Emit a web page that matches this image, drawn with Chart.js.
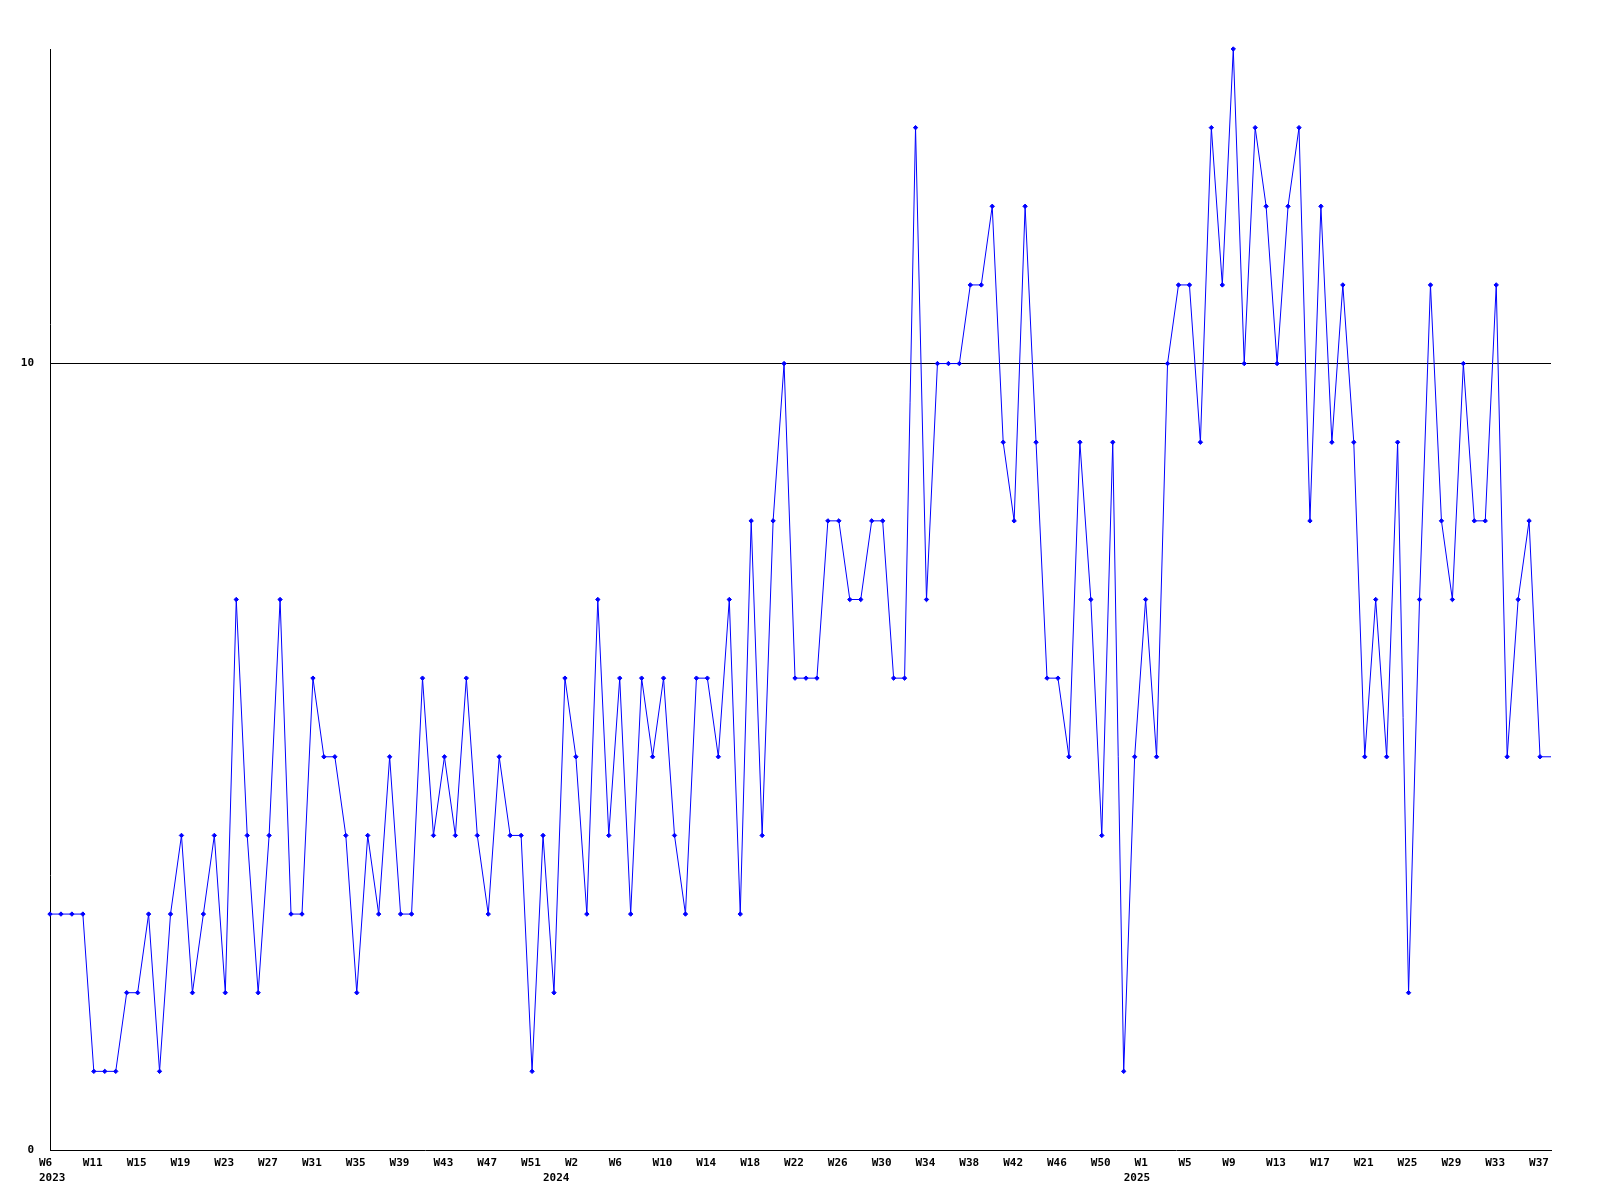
<!DOCTYPE html>
<html>
<head>
<meta charset="utf-8">
<script src="https://cdn.jsdelivr.net/npm/chart.js@4"></script>
<style>
  body { margin: 0; background: #fff; }
  #wrap { width: 1600px; height: 1200px; }
</style>
</head>
<body>
<div id="wrap"><canvas id="weeklyChart" width="1600" height="1200"></canvas></div>
<script>
// one value per week, 2023 W6 .. 2025 W37, plus the open week at the right edge
var values = [
    3, 3, 3, 3, 1, 1, 1, 2, 2, 3, 1, 3, 4, 2, 3, 4, 2, 7, 4, 2, 4, 7, 3, 3,
    6, 5, 5, 4, 2, 4, 3, 5, 3, 3, 6, 4, 5, 4, 6, 4, 3, 5, 4, 4, 1, 4, 2, 6,
    5, 3, 7, 4, 6, 3, 6, 5, 6, 4, 3, 6, 6, 5, 7, 3, 8, 4, 8, 10, 6, 6, 6, 8,
    8, 7, 7, 8, 8, 6, 6, 13, 7, 10, 10, 10, 11, 11, 12, 9, 8, 12, 9, 6, 6, 5, 9, 7,
    4, 9, 1, 5, 7, 5, 10, 11, 11, 9, 13, 11, 14, 10, 13, 12, 10, 12, 13, 8, 12, 9, 11,
    9, 5, 7, 5, 9, 2, 7, 11, 8, 7, 10, 8, 8, 11, 5, 7, 8, 5,
    5
];

// x tick labels, one on every 4th point
var weekTicks = [
    'W6', 'W11', 'W15', 'W19', 'W23', 'W27', 'W31', 'W35', 'W39', 'W43', 'W47', 'W51',
    'W2', 'W6', 'W10', 'W14', 'W18', 'W22', 'W26', 'W30', 'W34', 'W38', 'W42', 'W46', 'W50',
    'W1', 'W5', 'W9', 'W13', 'W17', 'W21', 'W25', 'W29', 'W33', 'W37'
];
var tickEvery = 4;

// second row: year names and the point they sit under
var yearNames = ['2023', '2024', '2025'];
var yearAt = [0, 46, 99];

var yTicks = [0, 10];
var yMax = 14;

var labels = values.map(function (v, i) { return String(i); });

var tickFont = { family: '"DejaVu Sans Mono", monospace', size: 11, weight: 'bold', lineHeight: 1.35 };

var ctx = document.getElementById('weeklyChart');

var weekly = new Chart(ctx, {
    type: 'line',
    data: {
        labels: labels,
        datasets: [{
            data: values,
            borderColor: '#0000ff',
            backgroundColor: '#0000ff',
            borderWidth: 1,
            pointStyle: 'rectRot',
            // the open week has no marker
            pointRadius: values.map(function (v, i) { return i === values.length - 1 ? 0 : 2.2; }),
            pointBorderWidth: 1,
            tension: 0,
            fill: false,
            clip: false
        }]
    },
    options: {
        responsive: false,
        animation: false,
        layout: { padding: { top: 49, right: 49, left: 0, bottom: 0 } },
        plugins: {
            legend: { display: false },
            tooltip: { enabled: false }
        },
        scales: {
            x: {
                type: 'category',
                offset: false,
                grid: { display: false, drawTicks: false },
                border: { display: true, color: '#000', width: 1 },
                afterFit: function (scale) { scale.height = 50; },
                ticks: {
                    autoSkip: false,
                    maxRotation: 0,
                    minRotation: 0,
                    align: 'start',
                    labelOffset: -11,
                    padding: 6,
                    color: '#000',
                    font: tickFont,
                    callback: function (value, index) {
                        var w = index % tickEvery === 0 ? weekTicks[index / tickEvery] : undefined;
                        var y = yearAt.indexOf(index);
                        if (w === undefined && y < 0) {
                            return null;
                        }
                        return [w || '', y >= 0 ? yearNames[y] : ''];
                    }
                }
            },
            y: {
                min: 0,
                max: yMax,
                afterBuildTicks: function (axis) {
                    axis.ticks = yTicks.map(function (v) { return { value: v }; });
                },
                afterFit: function (scale) { scale.width = 50; },
                grid: {
                    drawTicks: false,
                    color: function (c) { return c.tick && c.tick.value === 10 ? '#000' : 'rgba(0,0,0,0)'; },
                    lineWidth: 1
                },
                border: { display: true, color: '#000', width: 1 },
                ticks: {
                    padding: 16,
                    color: '#000',
                    font: tickFont
                }
            }
        }
    }
});
</script>
</body>
</html>
